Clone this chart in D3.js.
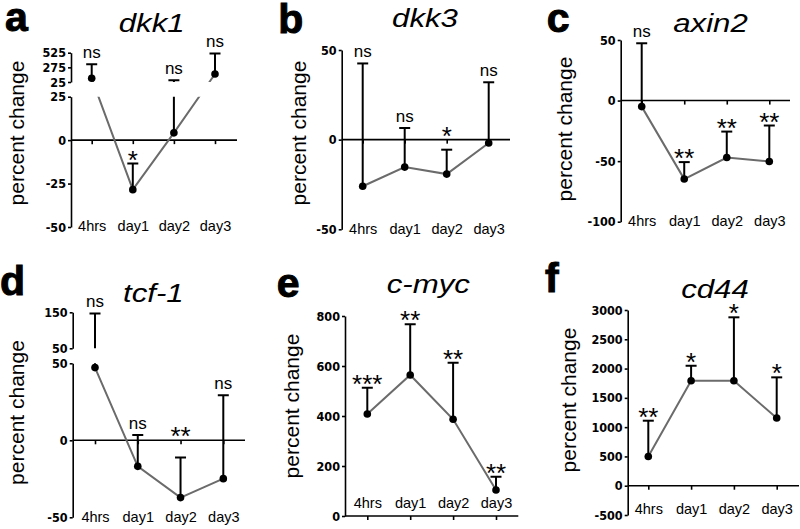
<!DOCTYPE html>
<meta charset="utf-8">
<style>
body { margin: 0; background: #fff; }
svg { display: block; background: #fff; }
.yaxis path, .yaxis line { stroke: #000; stroke-width: 1.6px; }
.yaxis text { font-family: "Liberation Sans Narrow", "DejaVu Sans Condensed", "Liberation Sans", sans-serif; font-weight: bold; font-size: 12.5px; fill: #000; }
.xticks line { stroke: #000; stroke-width: 1.6px; }
.xlabels text { font-family: "Liberation Sans", Arial, sans-serif; font-size: 14.5px; fill: #000; }
.zero { stroke: #000; stroke-width: 1.6px; }
.trend { fill: none; stroke: #6b6b6b; stroke-width: 2px; }
.err { stroke: #000; stroke-width: 2px; }
</style>
<body>
<svg width="800" height="529"></svg>
<script src="https://cdn.jsdelivr.net/npm/d3@7"></script>
<script>

var categories = ["4hrs", "day1", "day2", "day3"];
var genes = ["dkk1", "dkk3", "axin2", "tcf-1", "c-myc", "cd44"];
var letters = ["a", "b", "c", "d", "e", "f"];

// mean percent change at each time point
var dkk1Mean  = [88, -28.5, 4.2, 161];
var dkk3Mean  = [-26, -15.3, -19.2, -1.9];
var axin2Mean = [-5, -64.8, -47, -50.3];
var tcf1Mean  = [47.2, -16.9, -37.2, -24.9];
var cmycMean  = [408, 564, 387, 104];
var cd44Mean  = [500, 1792, 1792, 1155];

// top of the error bar
var dkk1Upper  = [326, -13.5, 54, 513];
var dkk3Upper  = [42.5, 6.5, -5.6, 32];
var axin2Upper = [47.3, -50.8, -25.6, -20.6];
var tcf1Upper  = [147, 3.4, -11.2, 29.2];
var cmycUpper  = [513, 767, 613, 157];
var cd44Upper  = [1110, 2048, 2875, 1850];

// significance marks
var dkk1Sig  = ["ns", "*", "ns", "ns"];
var dkk3Sig  = ["ns", "ns", "*", "ns"];
var axin2Sig = ["ns", "**", "**", "**"];
var tcf1Sig  = ["ns", "ns", "**", "ns"];
var cmycSig  = ["***", "**", "**", "**"];
var cd44Sig  = ["**", "*", "*", "*"];

// y tick values, one list per axis segment (broken axes have two)
var dkk1Ticks  = [[-50, -25, 0, 25], [25, 275, 525]];
var dkk3Ticks  = [[-50, 0, 50]];
var axin2Ticks = [[-100, -50, 0, 50]];
var tcf1Ticks  = [[-50, 0, 50], [50, 150]];
var cmycTicks  = [[0, 200, 400, 600, 800]];
var cd44Ticks  = [[-500, 0, 500, 1000, 1500, 2000, 2500, 3000]];

var means = [dkk1Mean, dkk3Mean, axin2Mean, tcf1Mean, cmycMean, cd44Mean];
var uppers = [dkk1Upper, dkk3Upper, axin2Upper, tcf1Upper, cmycUpper, cd44Upper];
var sigs = [dkk1Sig, dkk3Sig, axin2Sig, tcf1Sig, cmycSig, cd44Sig];
var ticks = [dkk1Ticks, dkk3Ticks, axin2Ticks, tcf1Ticks, cmycTicks, cd44Ticks];

// where each panel sits on the page
var layout = [
  {x0: 71,    xr: [91.7, 215],   xEnd: 237, ranges: [[227, 96.7], [82, 52.7]],   labY: 231,
   letter: [5, 30.7],     title: [151.7, 31.7], ylab: [17, 133]},
  {x0: 341.7, xr: [362.7, 488.7], xEnd: 510, ranges: [[229.3, 50]],              labY: 234,
   letter: [278.3, 33.3], title: [425, 26.7],   ylab: [298.3, 133]},
  {x0: 620.7, xr: [641.7, 769.3], xEnd: 790, ranges: [[221.7, 40]],              labY: 226,
   letter: [546.7, 31.7], title: [710.5, 31.7], ylab: [565, 129]},
  {x0: 72.7,  xr: [95, 223.3],   xEnd: 245, ranges: [[517.3, 363.3], [348.3, 312.3]], labY: 522,
   letter: [0, 295],      title: [153.3, 301.7], ylab: [16.7, 412.5]},
  {x0: 345,   xr: [367.3, 496],  xEnd: 518.3, ranges: [[516, 316]],              labY: 507.5,
   letter: [276.7, 296.7], title: [428.3, 293.3], ylab: [291.7, 406]},
  {x0: 627.7, xr: [648.3, 776.7], xEnd: 799, ranges: [[515, 310]],               labY: 514,
   letter: [545, 291.7],  title: [715, 298.3],  ylab: [568.3, 400]}
];

var svg = d3.select("svg");

layout.forEach(function(p, i) {
  var g = svg.append("g");

  var segs = ticks[i].map(function(t, k) {
    return d3.scaleLinear().domain(d3.extent(t)).range(p.ranges[k]);
  });
  var y = function(v) {
    if (segs.length > 1 && v > segs[1].domain()[0]) return segs[1](v);
    return segs[0](v);
  };
  var x = d3.scalePoint().domain(categories).range(p.xr);

  var data = categories.map(function(c, j) {
    return {cat: c, mean: means[i][j], upper: uppers[i][j], sig: sigs[i][j]};
  });

  // hide the gap of a broken axis
  var clipId = "clip" + i;
  var clip = svg.append("clipPath").attr("id", clipId);
  if (segs.length > 1) {
    clip.append("rect").attr("x", 0).attr("y", 0).attr("width", 800).attr("height", p.ranges[1][0]);
    clip.append("rect").attr("x", 0).attr("y", p.ranges[0][1]).attr("width", 800).attr("height", 529);
  } else {
    clip.append("rect").attr("x", 0).attr("y", 0).attr("width", 800).attr("height", 529);
  }

  // y axis segments
  segs.forEach(function(s, k) {
    g.append("g")
        .attr("class", "yaxis")
        .attr("transform", "translate(" + p.x0 + ",0)")
        .call(d3.axisLeft(s).tickValues(ticks[i][k]).tickSize(3).tickSizeOuter(0).tickPadding(2)
          .tickFormat(function(d) { return String(d); }));
  });

  // zero line with category ticks
  g.append("line")
      .attr("class", "zero")
      .attr("x1", p.x0).attr("x2", p.xEnd)
      .attr("y1", y(0)).attr("y2", y(0));

  var xt = g.append("g")
      .attr("class", "xticks")
      .attr("transform", "translate(0," + y(0) + ")")
      .call(d3.axisBottom(x).tickSize(4).tickFormat(""));
  xt.select(".domain").remove();

  var xl = g.append("g")
      .attr("class", "xlabels")
      .attr("transform", "translate(0," + p.labY + ")")
      .call(d3.axisBottom(x).tickSize(0).tickPadding(0));
  xl.select(".domain").remove();
  xl.selectAll("text").attr("dy", 0).attr("y", 0);

  // trend line
  var line = d3.line()
      .x(function(d) { return x(d.cat); })
      .y(function(d) { return y(d.mean); });

  g.append("path")
      .datum(data)
      .attr("class", "trend")
      .attr("clip-path", "url(#" + clipId + ")")
      .attr("d", line);

  // error bars (upper only)
  var eb = g.append("g").attr("clip-path", "url(#" + clipId + ")");
  eb.selectAll(".v").data(data).enter().append("line")
      .attr("class", "err")
      .attr("x1", function(d) { return x(d.cat); })
      .attr("x2", function(d) { return x(d.cat); })
      .attr("y1", function(d) { return y(d.mean); })
      .attr("y2", function(d) { return y(d.upper); });
  eb.selectAll(".cap").data(data).enter().append("line")
      .attr("class", "err")
      .attr("x1", function(d) { return x(d.cat) - 5.5; })
      .attr("x2", function(d) { return x(d.cat) + 5.5; })
      .attr("y1", function(d) { return y(d.upper); })
      .attr("y2", function(d) { return y(d.upper); });

  g.selectAll(".dot").data(data).enter().append("circle")
      .attr("cx", function(d) { return x(d.cat); })
      .attr("cy", function(d) { return y(d.mean); })
      .attr("r", 3.8)
      .attr("fill", "#000");

  // significance labels
  g.selectAll(".sig").data(data).enter().append("text")
      .attr("x", function(d) { return x(d.cat); })
      .attr("y", function(d) {
        var cap = y(d.upper), z = y(0);
        if (d.sig === "ns") return cap - 6;
        var ref = (cap > z && cap - z < 20) ? z : cap;
        return ref + 5;
      })
      .attr("text-anchor", "middle")
      .style("font-family", "'Liberation Sans', Arial, sans-serif")
      .style("font-size", function(d) { return d.sig === "ns" ? "17px" : "26px"; })
      .text(function(d) { return d.sig; });

  // panel letter, gene title, axis title
  g.append("text")
      .attr("x", p.letter[0]).attr("y", p.letter[1])
      .style("font-family", "'Liberation Sans', Arial, sans-serif")
      .style("font-weight", "bold")
      .style("font-size", "41px")
      .attr("stroke", "#000").attr("stroke-width", 1)
      .text(letters[i]);

  g.append("text")
      .attr("transform", "translate(" + p.title[0] + "," + p.title[1] + ") scale(1.2,1)")
      .attr("text-anchor", "middle")
      .style("font-family", "'Liberation Sans', Arial, sans-serif")
      .style("font-style", "italic")
      .style("font-size", "26px")
      .text(genes[i]);

  g.append("text")
      .attr("transform", "translate(" + p.ylab[0] + "," + p.ylab[1] + ") rotate(-90)")
      .attr("text-anchor", "middle")
      .attr("dy", "0.35em")
      .style("font-family", "'Liberation Sans', Arial, sans-serif")
      .style("font-size", "21px")
      .text("percent change");
});

</script>
</body>
